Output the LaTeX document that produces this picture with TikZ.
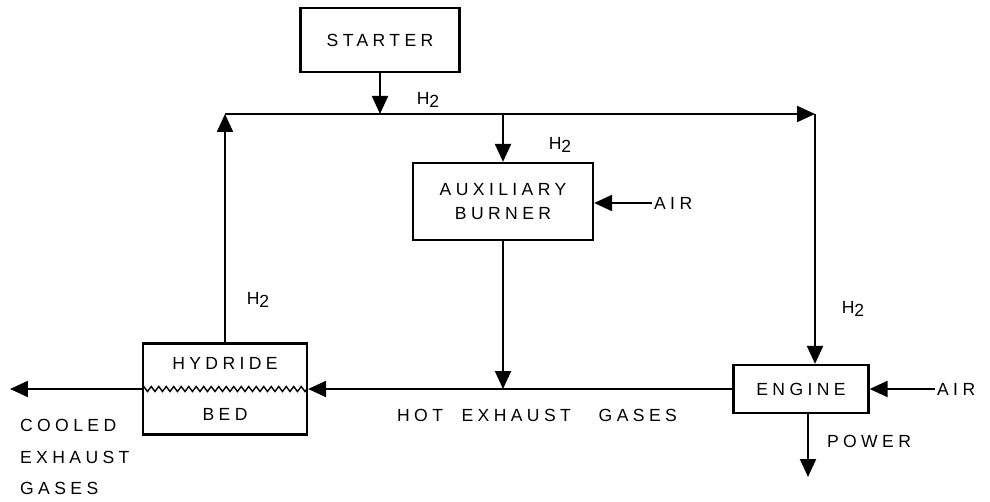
\documentclass[tikz,border=0pt]{standalone}
\usepackage{fontspec}
\newfontfamily\lab[LetterSpace=25]{Liberation Sans}
\usetikzlibrary{arrows.meta}
\usetikzlibrary{positioning}
\usetikzlibrary{decorations.pathmorphing}

\tikzset{
    blk/.style={rectangle, draw=black, line width=1.3pt, inner sep=0pt, align=center},
    txt/.style={inner sep=1pt, align=left},
    flow/.style={->, line width=1.2pt}
}

\begin{document}
\begin{tikzpicture}[x=0.02cm, y=-0.02cm, >={Triangle[length=0.36cm, width=0.32cm]}, font=\lab\fontsize{10}{14}\selectfont]
    \useasboundingbox (0,0) rectangle (990,502);

    \node [blk, minimum width=3.18cm, minimum height=1.28cm] (starter) at (380,40) {STARTER};
    \node [blk, minimum width=3.6cm, minimum height=1.54cm] (burner) at (503,201.5) {AUXILIARY\\BURNER};
    \node [blk, minimum width=2.7cm, minimum height=0.96cm] (engine) at (801,389) {ENGINE};
    \node [blk, minimum width=3.28cm, minimum height=1.82cm] (hydride) at (225,389) {HYDRIDE\\[15pt]BED};

    \coordinate (corner) at (225,114);
    \coordinate (split) at (815,114);
    \coordinate (powend) at (808,477);
    \coordinate (coolend) at (10,389);

    \node [txt] (h2start) at (428,100) {H\raisebox{-0.4ex}{2}};
    \node [txt] (h2burn) at (560,145) {H\raisebox{-0.4ex}{2}};
    \node [txt] (h2hyd) at (258,300) {H\raisebox{-0.4ex}{2}};
    \node [txt] (h2eng) at (853,309) {H\raisebox{-0.4ex}{2}};
    \node [txt, anchor=west] (airburn) at (652,203) {AIR};
    \node [txt, anchor=west] (aireng) at (935,389) {AIR};
    \node [txt] (power) at (869,441) {POWER};
    \node [txt] (hotgas) at (537,415) {HOT\ \ EXHAUST\ \ \ GASES};
    \node [txt, anchor=west, font=\lab\fontsize{10}{18}\selectfont] (coolgas) at (18,457) {COOLED\\EXHAUST\\GASES};

    \draw [decorate, decoration={zigzag, segment length=0.15cm, amplitude=0.05cm}, line width=0.8pt] (hydride.west) -- (hydride.east);

    \draw [flow] (starter.south) -- (starter.south |- corner);
    \draw [flow] (hydride.north) -- (corner);
    \draw [flow] (corner) -- (split);
    \draw [flow] (split) -- (split |- engine.north);
    \draw [flow] (burner.north |- corner) -- (burner.north);
    \draw [flow] (airburn.west) -- (airburn.west -| burner.east);
    \draw [flow] (burner.south) -- (burner.south |- engine.west);
    \draw [flow] (engine.west) -- (hydride.east);
    \draw [flow] (aireng.west) -- (aireng.west -| engine.east);
    \draw [flow] (engine.south -| powend) -- (powend);
    \draw [flow] (hydride.west) -- (coolend);
\end{tikzpicture}
\end{document}
